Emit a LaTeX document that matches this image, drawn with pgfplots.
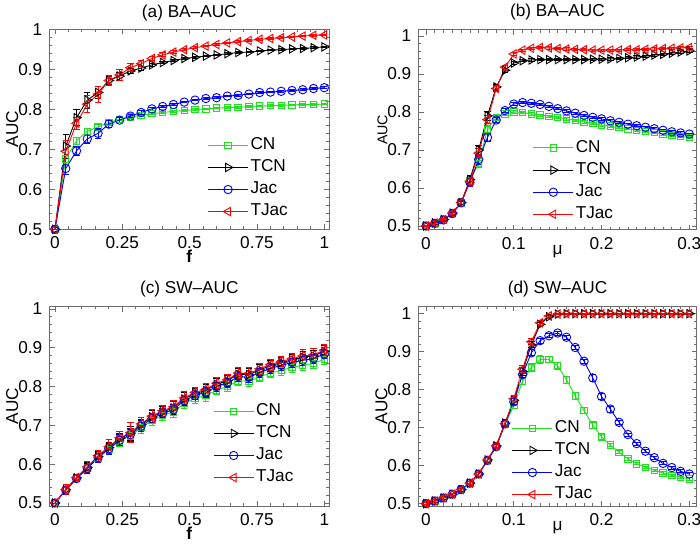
\documentclass[border=0pt]{standalone}
\usepackage{fontspec}
\setmainfont{Liberation Sans}
\usepackage{pgfplots}
\usepackage{pgfplotstable}
\pgfplotsset{compat=1.18}

\definecolor{cng}{RGB}{30,225,30}
\definecolor{axgray}{RGB}{110,110,110}

% panel (a): f, then value/error per method
\pgfplotstableread{
x    cn   cne   tcn  tcne  jac  jace  tjac tjace
0    .500 .000  .500 .000  .500 .000  .500 .000
0.04 .676 .008  .708 .030  .652 .015  .695 .028
0.08 .721 .008  .779 .020  .696 .012  .765 .015
0.12 .745 .007  .823 .020  .726 .012  .813 .022
0.16 .756 .006  .842 .015  .740 .012  .838 .020
0.20 .767 .005  .872 .010  .763 .008  .872 .012
0.24 .775 .004  .883 .010  .773 .006  .886 .014
0.28 .781 .003  .896 .007  .783 .004  .904 .010
0.32 .785 .003  .903 .005  .792 .004  .914 .008
0.36 .789 .002  .911 .004  .801 .003  .927 .006
0.40 .792 .002  .917 .003  .807 .003  .936 .005
0.44 .795 .002  .922 .003  .812 .003  .943 .004
0.48 .797 .002  .927 .003  .818 .002  .949 .003
0.52 .799 .002  .930 .002  .823 .002  .954 .003
0.56 .801 .002  .933 .002  .827 .002  .958 .002
0.60 .803 .002  .936 .002  .829 .002  .962 .002
0.64 .804 .002  .939 .002  .833 .002  .966 .002
0.68 .805 .002  .942 .002  .835 .002  .969 .002
0.72 .807 .002  .943 .002  .838 .002  .972 .002
0.76 .808 .002  .946 .002  .842 .002  .975 .002
0.80 .809 .002  .948 .002  .843 .002  .977 .002
0.84 .810 .002  .949 .002  .845 .002  .979 .002
0.88 .811 .002  .951 .002  .847 .002  .981 .002
0.92 .812 .002  .952 .002  .849 .002  .983 .002
0.96 .812 .002  .954 .002  .852 .002  .985 .002
1.00 .813 .002  .956 .002  .854 .002  .986 .002
}\taba

% panel (b): mu
\pgfplotstableread{
x    cn   cne   tcn  tcne  jac  jace  tjac tjace
0    .500 .002  .500 .002  .500 .002  .500 .002
0.01 .507 .003  .508 .003  .507 .003  .508 .003
0.02 .516 .003  .517 .003  .516 .003  .517 .003
0.03 .533 .004  .534 .004  .533 .004  .534 .004
0.04 .561 .005  .562 .005  .561 .005  .562 .005
0.05 .620 .010  .622 .010  .615 .010  .618 .010
0.06 .665 .012  .700 .012  .675 .012  .692 .012
0.07 .754 .010  .790 .012  .733 .010  .780 .010
0.08 .786 .006  .866 .008  .779 .006  .862 .008
0.09 .795 .005  .910 .006  .804 .005  .918 .006
0.10 .800 .004  .929 .004  .821 .004  .953 .004
0.11 .799 .003  .935 .003  .825 .003  .963 .003
0.12 .795 .003  .937 .003  .823 .003  .968 .003
0.13 .792 .003  .938 .003  .820 .003  .970 .003
0.14 .789 .003  .938 .003  .815 .003  .969 .003
0.15 .786 .003  .938 .003  .809 .003  .967 .003
0.16 .782 .003  .938 .003  .803 .003  .966 .003
0.17 .778 .003  .938 .003  .797 .003  .965 .003
0.18 .774 .003  .938 .003  .791 .003  .964 .003
0.19 .770 .003  .939 .003  .786 .003  .963 .003
0.20 .766 .003  .939 .003  .782 .003  .963 .003
0.21 .763 .003  .940 .003  .777 .003  .963 .003
0.22 .759 .003  .941 .003  .773 .003  .963 .003
0.23 .756 .003  .943 .003  .768 .003  .964 .003
0.24 .752 .003  .945 .003  .764 .003  .964 .003
0.25 .749 .003  .947 .003  .760 .003  .965 .003
0.26 .746 .003  .950 .003  .756 .003  .966 .003
0.27 .742 .003  .952 .003  .752 .003  .967 .003
0.28 .739 .003  .955 .003  .748 .003  .968 .003
0.29 .736 .003  .958 .003  .745 .003  .969 .003
0.30 .733 .003  .961 .003  .742 .003  .970 .003
}\tabb

% panel (c): f
\pgfplotstableread{
x    cn   cne   tcn  tcne  jac  jace  tjac tjace
0    .500 .000  .500 .000  .500 .000  .500 .000
0.04 .533 .010  .534 .010  .533 .010  .535 .012
0.08 .563 .008  .565 .008  .563 .008  .566 .008
0.12 .589 .012  .592 .012  .589 .012  .593 .014
0.16 .616 .012  .620 .012  .617 .012  .622 .014
0.20 .638 .014  .643 .014  .640 .014  .645 .018
0.24 .660 .014  .666 .014  .662 .014  .668 .016
0.28 .673 .016  .680 .018  .676 .016  .681 .026
0.32 .694 .014  .702 .014  .698 .014  .704 .016
0.36 .713 .014  .722 .016  .718 .014  .724 .016
0.40 .726 .012  .735 .014  .731 .012  .738 .014
0.44 .735 .014  .745 .016  .741 .014  .748 .016
0.48 .757 .014  .768 .016  .764 .014  .771 .016
0.52 .770 .014  .782 .014  .777 .014  .785 .014
0.56 .777 .014  .790 .016  .785 .014  .793 .016
0.60 .791 .012  .806 .014  .800 .012  .809 .014
0.64 .800 .012  .815 .014  .809 .012  .818 .014
0.68 .815 .012  .832 .014  .826 .012  .835 .014
0.72 .814 .014  .831 .016  .824 .014  .834 .016
0.76 .825 .012  .843 .014  .836 .012  .846 .014
0.80 .835 .012  .854 .014  .847 .012  .857 .014
0.84 .842 .012  .862 .014  .855 .012  .865 .014
0.88 .849 .012  .869 .014  .862 .012  .872 .014
0.92 .855 .014  .876 .014  .868 .014  .879 .016
0.96 .860 .012  .879 .014  .872 .012  .882 .016
1.00 .870 .012  .891 .014  .884 .012  .894 .014
}\tabc

% panel (d): mu
\pgfplotstableread{
x    cn   cne   tcn  tcne  jac  jace  tjac tjace
0    .500 .002  .500 .002  .500 .002  .500 .002
0.01 .507 .003  .507 .003  .507 .003  .507 .003
0.02 .515 .003  .515 .003  .515 .003  .515 .003
0.03 .525 .003  .525 .003  .525 .003  .525 .003
0.04 .537 .004  .537 .004  .537 .004  .537 .004
0.05 .554 .004  .554 .004  .554 .004  .554 .004
0.06 .578 .005  .578 .005  .578 .005  .578 .005
0.07 .614 .007  .615 .007  .614 .007  .615 .007
0.08 .650 .007  .652 .008  .650 .007  .653 .008
0.09 .708 .008  .712 .009  .710 .008  .711 .009
0.10 .758 .008  .772 .010  .768 .008  .776 .010
0.11 .822 .008  .848 .010  .840 .008  .854 .010
0.12 .859 .010  .918 .008  .897 .008  .926 .008
0.13 .880 .010  .972 .006  .929 .006  .976 .006
0.14 .879 .008  .992 .004  .942 .005  .994 .004
0.15 .863 .010  .999 .002  .949 .005  .999 .002
0.16 .826 .010  1.00 .001  .938 .005  1.00 .001
0.17 .784 .010  1.00 .001  .911 .006  1.00 .001
0.18 .745 .008  1.00 .001  .875 .006  1.00 .001
0.19 .707 .008  1.00 .001  .831 .008  1.00 .001
0.20 .676 .006  1.00 .001  .782 .008  1.00 .001
0.21 .654 .004  1.00 .001  .749 .008  1.00 .001
0.22 .635 .004  1.00 .001  .714 .006  1.00 .001
0.23 .618 .004  1.00 .001  .682 .004  1.00 .001
0.24 .605 .003  1.00 .001  .658 .004  1.00 .001
0.25 .596 .003  1.00 .001  .638 .004  1.00 .001
0.26 .588 .003  1.00 .001  .621 .004  1.00 .001
0.27 .581 .003  1.00 .001  .606 .004  1.00 .001
0.28 .575 .003  1.00 .001  .595 .004  1.00 .001
0.29 .570 .003  1.00 .001  .585 .004  1.00 .001
0.30 .565 .003  1.00 .001  .578 .004  1.00 .001
}\tabd

\pgfplotsset{
  every axis title shift=0pt,
  aucax/.style={
    scale only axis, anchor=south west,
    width=140pt, height=100pt,
    font=\fontsize{8.6}{10}\selectfont,
    axis line style={axgray, line width=0.5pt},
    every tick/.style={axgray, line width=0.4pt},
    major tick length=2.6pt, minor tick length=1.5pt,
    tick align=inside,
    ytick={0.5,0.6,0.7,0.8,0.9,1},
    minor y tick num=4,
    /pgf/number format/assume math mode=true,
    ylabel={AUC},
    ylabel style={at={(axis description cs:-0.111,0.5)}, anchor=base},
    title style={at={(0.5,1)}, anchor=base, yshift=6.6pt, font=\fontsize{8.6}{10}\selectfont},
    legend image code/.code={%
      \draw[mark repeat=2,mark phase=2] plot coordinates {(0pt,0pt) (10pt,0pt) (20pt,0pt)};},
    legend style={draw=none, fill=none, anchor=north west, inner sep=0pt,
      row sep=1.6pt, font=\fontsize{8.6}{10}\selectfont,
      nodes={inner sep=1pt}},
    legend cell align=left,
    error bars/y dir=both, error bars/y explicit,
    error bars/error mark options={rotate=90, mark size=1.6pt, line width=0.4pt},
    every axis plot/.append style={line width=0.45pt},
  },
  fax/.style={xmin=-0.021, xmax=1.0186, xtick={0,0.25,0.5,0.75,1}, minor x tick num=4,
    xlabel={\textbf{f}}},
  muax/.style={xmin=-0.0088, xmax=0.3084, xtick={0,0.1,0.2,0.3}, minor x tick num=9,
    xlabel={μ}, xlabel style={at={(axis description cs:0.5,-0.122)}, anchor=base}},
  cnst/.style={cng, mark=square, mark size=1.6pt, mark options={solid}},
  tcnst/.style={black, mark=triangle, mark size=2.4pt, mark options={solid, rotate=-90}},
  jacst/.style={blue, mark=o, mark size=2.1pt, mark options={solid}},
  tjacst/.style={red, mark=triangle, mark size=2.4pt, mark options={solid, rotate=90}},
}

\begin{document}
\begin{tikzpicture}
\path[use as bounding box] (0pt,0pt) rectangle (350pt,273pt);

% (a)
\begin{axis}[aucax, fax, at={(24.65pt,158.35pt)}, ymin=0.5, ymax=1,
  title={(a) BA–AUC}, title style={yshift=-0.9pt},
  xlabel style={at={(axis description cs:0.5,-0.168)}, anchor=base},
  legend style={at={(0.564,0.47)}}]
\addplot+[cnst] table[x=x, y=cn, y error=cne] {\taba};
\addplot+[tcnst] table[x=x, y=tcn, y error=tcne] {\taba};
\addplot+[jacst] table[x=x, y=jac, y error=jace] {\taba};
\addplot+[tjacst] table[x=x, y=tjac, y error=tjace] {\taba};
\legend{CN,TCN,Jac,TJac}
\end{axis}

% (b)
\begin{axis}[aucax, muax, at={(209.15pt,158pt)}, width=139.2pt, ymin=0.4895, ymax=1.016,
  title={(b) BA–AUC},
  ylabel style={font=\fontsize{7.1}{9}\selectfont},
  legend style={at={(0.41,0.46)}}]
\addplot+[cnst] table[x=x, y=cn, y error=cne] {\tabb};
\addplot+[tcnst] table[x=x, y=tcn, y error=tcne] {\tabb};
\addplot+[jacst] table[x=x, y=jac, y error=jace] {\tabb};
\addplot+[tjacst] table[x=x, y=tjac, y error=tjace] {\tabb};
\legend{CN,TCN,Jac,TJac}
\end{axis}

% (c)
\begin{axis}[aucax, fax, at={(24.65pt,19.85pt)}, ymin=0.4915, ymax=1.007,
  title={(c) SW–AUC},
  xlabel style={at={(axis description cs:0.5,-0.166)}, anchor=base},
  legend style={at={(0.584,0.525)}}]
\addplot+[cnst] table[x=x, y=cn, y error=cne] {\tabc};
\addplot+[tcnst] table[x=x, y=tcn, y error=tcne] {\tabc};
\addplot+[jacst] table[x=x, y=jac, y error=jace] {\tabc};
\addplot+[tjacst] table[x=x, y=tjac, y error=tjace] {\tabc};
\legend{CN,TCN,Jac,TJac}
\end{axis}

% (d)
\begin{axis}[aucax, muax, at={(209.15pt,19.85pt)}, width=139.2pt, ymin=0.493, ymax=1.0195,
  title={(d) SW–AUC},
  legend style={at={(0.335,0.44)}}]
\addplot+[cnst] table[x=x, y=cn, y error=cne] {\tabd};
\addplot+[tcnst] table[x=x, y=tcn, y error=tcne] {\tabd};
\addplot+[jacst] table[x=x, y=jac, y error=jace] {\tabd};
\addplot+[tjacst] table[x=x, y=tjac, y error=tjace] {\tabd};
\legend{CN,TCN,Jac,TJac}
\end{axis}
\end{tikzpicture}
\end{document}
